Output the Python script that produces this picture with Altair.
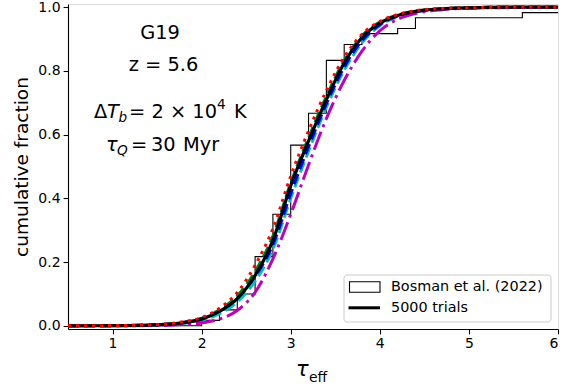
import altair as alt
import pandas as pd

# ---------------- data ----------------
# Bosman et al. (2022) cumulative step histogram (bin edges, cumulative fraction)
hist_edges = [0.5, 2.0, 2.2, 2.4, 2.6, 2.8, 3.0, 3.2, 3.4, 3.6, 3.8, 4.0, 4.2, 4.4, 5.6, 6.0]
hist_cum = [0.0, 0.017, 0.05, 0.10, 0.217, 0.35, 0.567, 0.667, 0.833, 0.883, 0.917, 0.917,
            0.933, 0.967, 0.983, 0.983]

# model CDFs
tau_grid = [0.5, 1.0, 1.5, 1.8, 2.0, 2.2, 2.4, 2.6, 2.8, 3.0, 3.2, 3.4, 3.6, 3.8, 4.0,
            4.2, 4.4, 4.7, 5.0, 5.5, 6.0]
cdf_black = [0.0, 0.0005, 0.003, 0.010, 0.021, 0.045, 0.085, 0.158, 0.268, 0.440, 0.580,
             0.710, 0.825, 0.905, 0.950, 0.974, 0.987, 0.995, 0.998, 1.0, 1.0]
cdf_red = [0.0, 0.0008, 0.004, 0.013, 0.026, 0.055, 0.105, 0.190, 0.305, 0.470, 0.612,
           0.738, 0.843, 0.915, 0.955, 0.977, 0.989, 0.996, 0.998, 1.0, 1.0]
cdf_green = [0.0, 0.0006, 0.0035, 0.011, 0.023, 0.050, 0.094, 0.170, 0.282, 0.448, 0.590,
             0.720, 0.832, 0.910, 0.953, 0.976, 0.988, 0.995, 0.998, 1.0, 1.0]
cdf_blue = [0.0, 0.0006, 0.0035, 0.011, 0.023, 0.048, 0.088, 0.155, 0.255, 0.415, 0.562,
            0.697, 0.812, 0.895, 0.945, 0.972, 0.986, 0.995, 0.998, 1.0, 1.0]
cdf_cyan = [0.0, 0.0004, 0.0025, 0.008, 0.017, 0.038, 0.075, 0.140, 0.240, 0.400, 0.548,
            0.686, 0.802, 0.888, 0.942, 0.970, 0.985, 0.994, 0.998, 1.0, 1.0]
cdf_magenta = [0.0, 0.0002, 0.001, 0.004, 0.009, 0.021, 0.048, 0.105, 0.210, 0.350, 0.505,
               0.650, 0.770, 0.862, 0.926, 0.962, 0.980, 0.992, 0.997, 0.999, 1.0]

legend_labels = ["Bosman et al. (2022)", "5000 trials"]
x_ticks = [1, 2, 3, 4, 5, 6]
y_ticks = [0.0, 0.2, 0.4, 0.6, 0.8, 1.0]

FONT = "DejaVu Sans"
W, H = 490, 325
L, T = 68, 4

xs = alt.Scale(domain=[0.5, 6.0], nice=False, zero=False)
ys = alt.Scale(domain=[-0.01, 1.01], nice=False, zero=False)

axis_common = dict(labelFont=FONT, labelFontSize=14, labelColor="black",
                   tickColor="black", tickWidth=1.1, tickSize=4.9, labelPadding=3,
                   domainColor="black", domainWidth=1.1, grid=False)

hist_df = pd.DataFrame({"tau": hist_edges, "frac": hist_cum})

x_enc = alt.X("tau:Q", scale=xs,
              axis=alt.Axis(values=x_ticks, format="d", title=None, **axis_common))
y_enc = alt.Y("frac:Q", scale=ys,
              axis=alt.Axis(values=y_ticks, format=".1f", title="cumulative fraction",
                            titleFontSize=18.5, titleFont=FONT, titleFontWeight="normal",
                            titleColor="black", titlePadding=6, **axis_common))

hist = alt.Chart(hist_df).mark_line(
    interpolate="step-after", color="black", strokeWidth=1.1, clip=True
).encode(x=x_enc, y=y_enc)


def curve(vals, color, dash, width):
    df = pd.DataFrame({"tau": tau_grid, "frac": vals})
    kw = dict(color=color, strokeWidth=width, interpolate="monotone", clip=True)
    if dash:
        kw["strokeDash"] = dash
    return alt.Chart(df).mark_line(**kw).encode(x="tau:Q", y="frac:Q")


layers = [
    hist,
    curve(cdf_cyan, "#00bfbf", [11, 5], 3),
    curve(cdf_blue, "#0000ff", [11, 5], 3),
    curve(cdf_green, "#008000", [11, 5], 3),
    curve(cdf_magenta, "#bf00bf", [19, 5, 3, 5], 3),
    curve(cdf_black, "black", None, 3.2),
    curve(cdf_red, "#ff0000", [3, 5], 3),
]


# ---------- annotations (pixel positions inside plot area) ----------
def txt(s, x, y, size=19.4, style="normal", align="left"):
    return alt.Chart(pd.DataFrame({"t": [s]})).mark_text(
        font=FONT, fontSize=size, fontStyle=style, align=align, baseline="middle",
        color="black"
    ).encode(x=alt.value(x), y=alt.value(y), text="t:N")


ann = [
    txt("G19", 160 - L, 33 - T, align="center"),
    txt("z = 5.6", 163.5 - L, 65 - T, align="center"),
    txt("Δ", 94 - L, 112 - T),
    txt("T", 107 - L, 112 - T, style="italic"),
    txt("b", 118.5 - L, 118 - T, size=13.6, style="italic"),
    txt("= 2 × 10", 129 - L, 112 - T),
    txt("4", 217 - L, 105 - T, size=13.6),
    txt("K", 234 - L, 112 - T),
    txt("τ", 106 - L, 145 - T, style="italic"),
    txt("Q", 117 - L, 151 - T, size=13.6, style="italic"),
    txt("=", 131 - L, 145 - T),
    txt("30", 151 - L, 145 - T),
    txt("Myr", 183 - L, 145 - T),
    # x-axis title
    txt("τ", 296 - L, 370 - T, size=21, style="italic"),
    txt("eff", 309 - L, 378 - T, size=14),
]

# ---------- legend ----------
leg_box = alt.Chart(pd.DataFrame({"a": [0]})).mark_rect(
    fill="white", fillOpacity=0.8, stroke="#cccccc", strokeWidth=1, cornerRadius=3
).encode(x=alt.value(344 - L), x2=alt.value(551 - L),
         y=alt.value(275 - T), y2=alt.value(322 - T))
leg_patch = alt.Chart(pd.DataFrame({"a": [0]})).mark_rect(
    fill="white", stroke="black", strokeWidth=1.1
).encode(x=alt.value(349.5 - L), x2=alt.value(380 - L),
         y=alt.value(281.8 - T), y2=alt.value(292.2 - T))
leg_line = alt.Chart(pd.DataFrame({"a": [0]})).mark_rule(
    color="black", strokeWidth=3
).encode(x=alt.value(348.5 - L), x2=alt.value(380 - L), y=alt.value(307.8 - T))
leg_t1 = txt(legend_labels[0], 391 - L, 287 - T, size=14.4)
leg_t2 = txt(legend_labels[1], 391 - L, 308 - T, size=14.4)

chart = alt.layer(*layers, *ann, leg_box, leg_patch, leg_line, leg_t1, leg_t2).properties(
    width=W, height=H,
    autosize=alt.AutoSizeParams(type="none"),
    padding={"left": L, "top": T, "right": 566 - L - W, "bottom": 387 - T - H},
).configure_view(
    stroke="black", strokeWidth=1.1
).configure(background="white")

chart.save("out.html", embed_options={"renderer": "svg", "actions": False})
